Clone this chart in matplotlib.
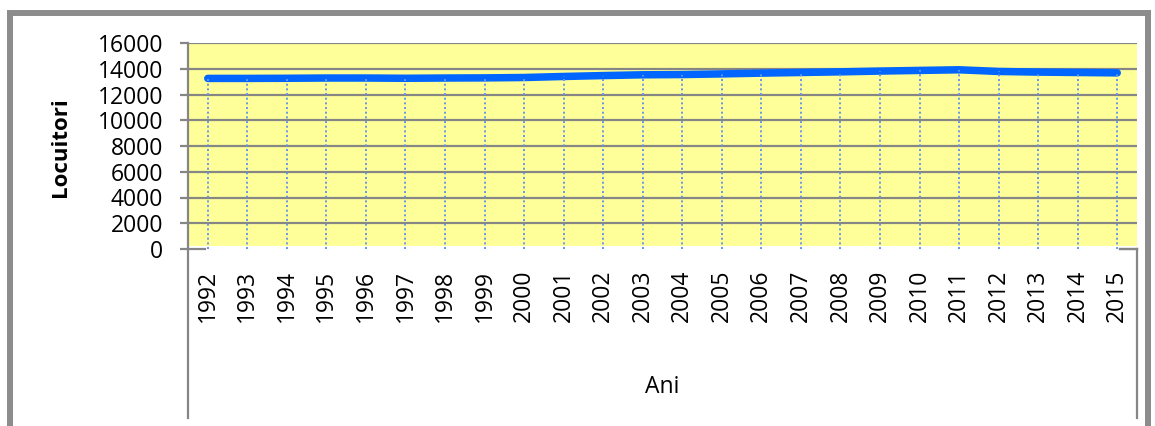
import matplotlib
matplotlib.use("Agg")
import matplotlib.pyplot as plt
from matplotlib.patches import Rectangle
from matplotlib.lines import Line2D

years = [str(y) for y in range(1992, 2016)]
locuitori = [13250, 13250, 13260, 13280, 13280, 13260, 13280, 13290, 13320, 13400,
             13470, 13530, 13550, 13600, 13660, 13710, 13760, 13820, 13870, 13920,
             13790, 13740, 13710, 13680]
y_ticks = [0, 2000, 4000, 6000, 8000, 10000, 12000, 14000, 16000]

plt.rcParams['font.family'] = ['Open Sans', 'DejaVu Sans']

W, H = 1155, 426
fig = plt.figure(figsize=(W / 100, H / 100), dpi=100)
fig.patch.set_facecolor('white')

def fx(px):
    return px / W

def fy(py):
    return 1 - py / H

left, right, top, bottom = 188, 1137, 43, 249
ax = fig.add_axes([fx(left), fy(bottom), fx(right) - fx(left), fy(top) - fy(bottom)])
ax.set_facecolor('none')
ax.add_patch(Rectangle((0, 0.015), 1, 0.985, transform=ax.transAxes,
                       facecolor='#FFFF99', edgecolor='none', zorder=0))

x = list(range(len(years)))
grid_c = '#868686'
for v in y_ticks[1:]:
    ax.axhline(v, color=grid_c, lw=1.6, zorder=1)
# short visible parts of the category axis line
ax.plot([-0.5, -0.06], [0, 0], color=grid_c, lw=1.6, zorder=1, clip_on=False)
ax.plot([23.06, 23.5], [0, 0], color=grid_c, lw=1.6, zorder=1, clip_on=False)

ax.plot(x, locuitori, color='#0066FF', lw=5.4, solid_capstyle='round',
        solid_joinstyle='round', zorder=3)
ax.vlines(x, 0, locuitori, colors='#6495F0', linestyles=(0, (1, 1.4)), lw=1.4, zorder=4)

ax.set_xlim(-0.5, len(years) - 0.5)
ax.set_ylim(0, 16000)
ax.set_yticks(y_ticks)
ax.set_yticklabels([str(v) for v in y_ticks], fontsize=16.5)
ax.set_xticks(x)
ax.set_xticklabels(years, rotation=90, fontsize=16.5)
ax.tick_params(axis='x', length=0, pad=15)
ax.tick_params(axis='y', length=6, width=1.6, color=grid_c, direction='out', pad=12)

for s in ['top', 'right', 'bottom']:
    ax.spines[s].set_visible(False)
ax.spines['left'].set_color(grid_c)
ax.spines['left'].set_linewidth(1.6)

# multi-level category axis lines
fig.add_artist(Line2D([fx(188), fx(188)], [fy(249), fy(418)], color=grid_c, lw=1.6))
fig.add_artist(Line2D([fx(1137), fx(1137)], [fy(249), fy(418)], color=grid_c, lw=1.6))
fig.add_artist(Line2D([fx(1120), fx(1137)], [fy(249.5), fy(249.5)], color=grid_c, lw=1.6))

fig.text(fx(61), fy(147), 'Locuitori', rotation=90, fontsize=16, fontweight='bold',
         ha='center', va='center')
fig.text(fx(662), fy(387), 'Ani', fontsize=16.5, ha='center', va='center')

# outer chart frame
fig.add_artist(Rectangle((fx(10), fy(440)), fx(1148) - fx(10), fy(13.5) - fy(440),
                         transform=fig.transFigure, facecolor='none',
                         edgecolor='#8C8C8C', lw=4.3, clip_on=False))

fig.savefig('out.png', dpi=100)
